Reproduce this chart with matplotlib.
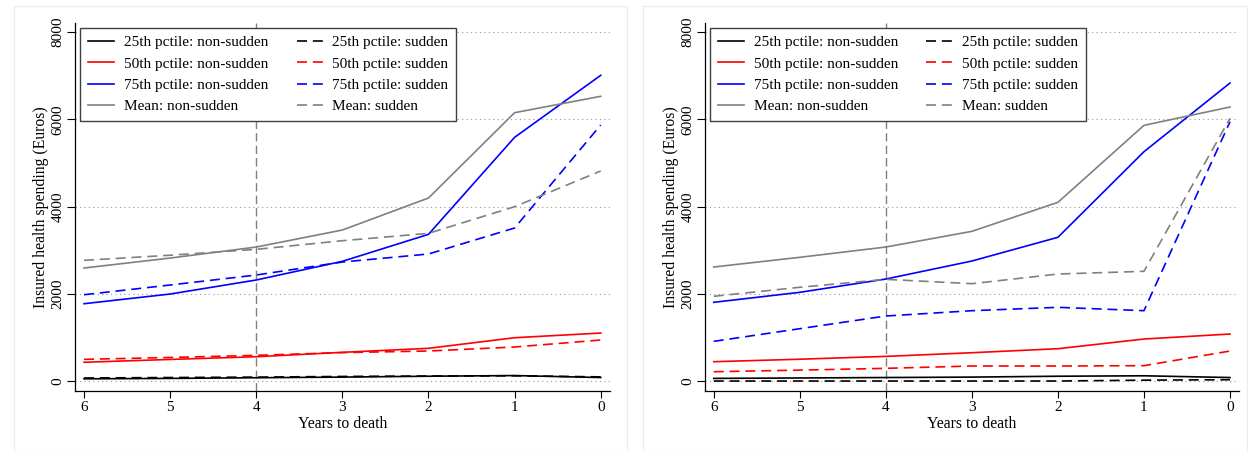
import matplotlib
matplotlib.use("Agg")
import matplotlib.pyplot as plt
from matplotlib.patches import Rectangle
import numpy as np

years = [6, 5, 4, 3, 2, 1, 0]

# Left panel
L_p25_ns = [50, 60, 75, 90, 110, 125, 80]
L_p25_s = [70, 80, 90, 105, 115, 120, 95]
L_p50_ns = [430, 495, 557, 658, 750, 993, 1100]
L_p50_s = [497, 540, 589, 652, 688, 780, 940]
L_p75_ns = [1773, 1995, 2317, 2745, 3364, 5589, 7011]
L_p75_s = [1979, 2202, 2431, 2729, 2913, 3509, 5872]
L_mean_ns = [2592, 2820, 3073, 3463, 4197, 6154, 6530]
L_mean_s = [2768, 2885, 3020, 3218, 3387, 3998, 4817]

# Right panel
R_p25_ns = [60, 70, 80, 90, 110, 120, 80]
R_p25_s = [0, 0, 0, 0, 0, 20, 30]
R_p50_ns = [443, 500, 565, 649, 741, 963, 1078]
R_p50_s = [213, 250, 291, 344, 344, 352, 688]
R_p75_ns = [1805, 2034, 2339, 2752, 3296, 5259, 6835]
R_p75_s = [910, 1200, 1491, 1613, 1690, 1613, 5947]
R_mean_ns = [2615, 2837, 3073, 3433, 4098, 5864, 6284]
R_mean_s = [1943, 2150, 2332, 2232, 2454, 2516, 6025]

labels_ns = ["25th pctile: non-sudden", "50th pctile: non-sudden",
             "75th pctile: non-sudden", "Mean: non-sudden"]
labels_s = ["25th pctile: sudden", "50th pctile: sudden",
            "75th pctile: sudden", "Mean: sudden"]
colors = ["#000000", "#ff0000", "#0000ff", "#808080"]
yticks = [0, 2000, 4000, 6000, 8000]
xticks = [6, 5, 4, 3, 2, 1, 0]

plt.rcParams['font.family'] = ['Liberation Serif', 'DejaVu Serif']
FS = 11

W, H = 1248, 451
fig = plt.figure(figsize=(W / 100, H / 100), dpi=100)

# panel frames
for (x0, x1) in [(14, 627), (643, 1247)]:
    fig.patches.append(Rectangle((x0 / W, 0), (x1 - x0) / W, (H - 6) / H,
                                 transform=fig.transFigure, fill=False,
                                 edgecolor="#e6eeee", linewidth=1))


def panel(ax, ns, s):
    for yv in yticks:
        ax.axhline(yv, color="#9a9a9a", linestyle=(0, (1, 3)), linewidth=0.8, zorder=0)
    ax.axvline(4, color="#808080", linestyle=(0, (6, 3)), linewidth=1.0, zorder=1)
    hs_ns, hs_s = [], []
    for vals, c in zip(ns, colors):
        h, = ax.plot(years, vals, color=c, linewidth=1.2, linestyle='-')
        hs_ns.append(h)
    for vals, c in zip(s, colors):
        h, = ax.plot(years, vals, color=c, linewidth=1.2, linestyle=(0, (6, 3.5)))
        hs_s.append(h)
    ax.set_xlim(6.105, -0.108)
    ax.set_ylim(-222, 8218)
    ax.set_xticks(xticks)
    ax.set_yticks(yticks)
    ax.set_yticklabels([str(v) for v in yticks], rotation=90, va='center')
    ax.tick_params(axis='y', direction='out', length=6, width=0.8, labelsize=FS, pad=1.5)
    ax.tick_params(axis='x', direction='out', length=5, width=0.8, labelsize=FS, pad=2.5)
    for sp in ['top', 'right']:
        ax.spines[sp].set_visible(False)
    for sp in ['left', 'bottom']:
        ax.spines[sp].set_linewidth(0.9)
    ax.set_xlabel("Years to death", fontsize=11.3, labelpad=1)
    ax.set_ylabel("Insured health spending (Euros)", fontsize=11.3, labelpad=2)
    leg = ax.legend(hs_ns + hs_s, labels_ns + labels_s, ncol=2,
                    loc='upper left', bbox_to_anchor=(0.01, 0.986),
                    borderaxespad=0, fancybox=False, edgecolor='#404040',
                    framealpha=1, fontsize=FS, handlelength=1.7,
                    columnspacing=1.85, labelspacing=0.5, handletextpad=0.65,
                    borderpad=0.5)
    leg.get_frame().set_linewidth(1.0)


bot = (451 - 390.7) / H
hgt = (390.7 - 22.7) / H
axL = fig.add_axes([75 / W, bot, (610 - 75) / W, hgt])
panel(axL, [L_p25_ns, L_p50_ns, L_p75_ns, L_mean_ns],
      [L_p25_s, L_p50_s, L_p75_s, L_mean_s])
axR = fig.add_axes([704.7 / W, bot, (1239.3 - 704.7) / W, hgt])
panel(axR, [R_p25_ns, R_p50_ns, R_p75_ns, R_mean_ns],
      [R_p25_s, R_p50_s, R_p75_s, R_mean_s])

fig.savefig("out.png", dpi=100)
